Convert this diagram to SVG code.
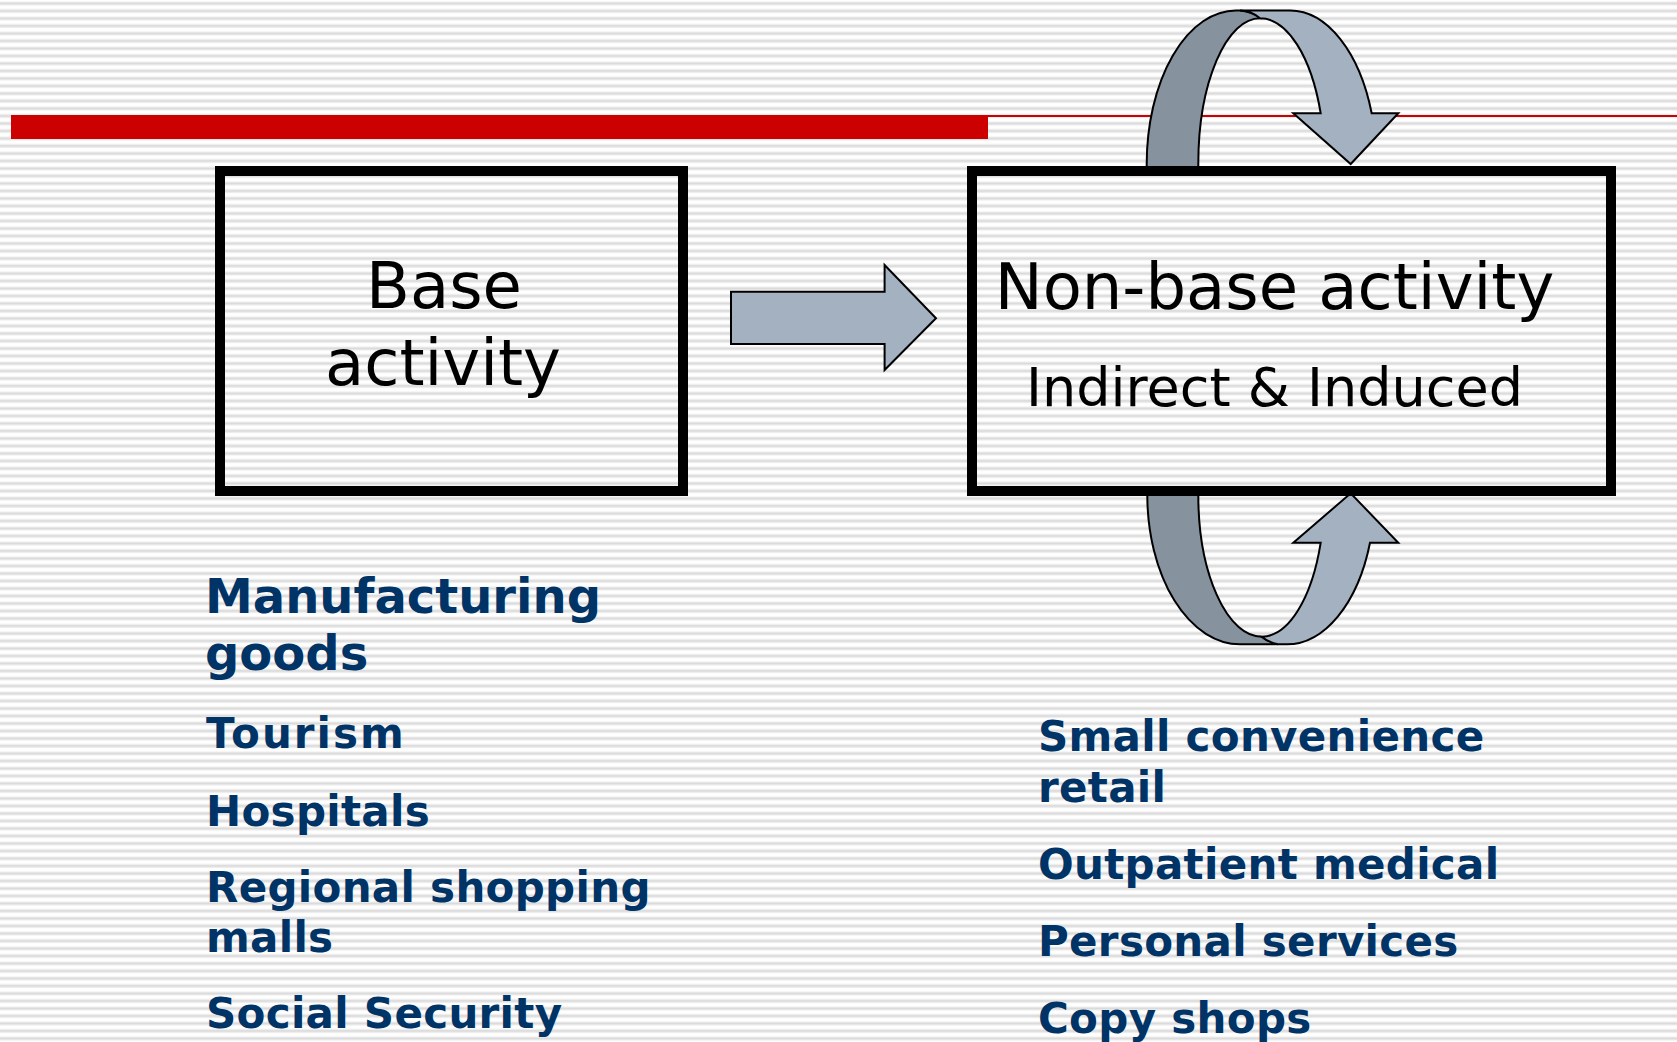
<svg xmlns="http://www.w3.org/2000/svg" width="1677" height="1042" viewBox="0 0 1677 1042">
<defs>
<pattern id="stripes" x="0" y="0" width="40" height="7.5" patternUnits="userSpaceOnUse">
<rect width="40" height="7.5" fill="#ffffff"/>
<rect y="1.5" width="40" height="1" fill="#ededed"/>
<rect y="2.5" width="40" height="2" fill="#d9d9d9"/>
<rect y="4.5" width="40" height="1" fill="#ededed"/>
</pattern>
<style>
.box{fill:none;stroke:#000;stroke-width:10}
.big{font-family:"DejaVu Sans","Verdana",sans-serif;font-size:64px;fill:#000;text-anchor:middle}
.sub{font-family:"DejaVu Sans","Verdana",sans-serif;font-size:54px;fill:#000;text-anchor:middle}
.item{font-family:"DejaVu Sans","Verdana",sans-serif;font-weight:bold;font-size:42px;fill:#003366;letter-spacing:0.3px}
.item48{font-family:"DejaVu Sans","Verdana",sans-serif;font-weight:bold;font-size:48px;fill:#003366}
.dark{fill:#86929e;stroke:#000;stroke-width:2;stroke-linejoin:miter}
.light{fill:#a3b1c0;stroke:#000;stroke-width:2;stroke-linejoin:miter}
</style>
</defs>
<rect width="1677" height="1042" fill="url(#stripes)"/>
<g id="header">
<rect x="11" y="115" width="977" height="24" fill="#cc0000"/>
<rect x="988" y="115" width="689" height="2" fill="#cc0000"/>
</g>
<g id="connectors">
<polygon class="light" points="731,291.7 884.6,291.7 884.6,265 936,318.3 884.6,370 884.6,344 731,344"/>
<path class="dark" d="M1146.7,170 L1146.7,164 A89.3,153.5 0 0 1 1236,10.5 L1240,10.5 Q1252,11 1260,18.3 A61.7,145.7 0 0 0 1198.3,164 L1198.3,170 Z"/>
<path class="light" d="M1240,10.5 L1290,10.5 A86.6,153.3 0 0 1 1371.7,113.3 L1398.3,113.3 L1350.7,164 L1293.3,113.3 L1320.7,113.3 A64.7,145.7 0 0 0 1260,18.3 Q1252,11 1240,10.5 Z"/>
<path class="dark" d="M1147.3,489 L1147.3,495 A92.7,149.3 0 0 0 1240,644.3 L1278,644.3 Q1268,642 1261.7,636.7 A63.4,141.7 0 0 1 1198.3,495 L1198.3,489 Z"/>
<path class="light" d="M1278,644.3 L1286.7,644.3 A87.9,149.3 0 0 0 1370,542.7 L1398.3,542.7 L1350.7,493.3 L1293.3,542.7 L1320.7,542.7 A62.7,141.7 0 0 1 1261.7,636.7 Q1268,642 1278,644.3 Z"/>
</g>
<g id="base">
<rect class="box" x="220" y="171" width="463" height="320"/>
<text class="big" x="444" y="308">Base</text>
<text class="big" x="443" y="385">activity</text>
</g>
<g id="nonbase">
<rect class="box" x="972" y="171" width="639" height="320"/>
<text class="big" x="1274.5" y="309">Non-base activity</text>
<text class="sub" x="1274.5" y="406">Indirect &amp; Induced</text>
</g>
<g id="base-list">
<text class="item48" x="205" y="612.7">Manufacturing</text>
<text class="item48" x="205" y="670">goods</text>
<text class="item" x="206" y="748.3" style="letter-spacing:2px">Tourism</text>
<text class="item" x="206" y="825.7">Hospitals</text>
<text class="item" x="206" y="901.7">Regional shopping</text>
<text class="item" x="206" y="952.3">malls</text>
<text class="item" x="206" y="1028.3">Social Security</text>
</g>
<g id="nonbase-list">
<text class="item" x="1038" y="751">Small convenience</text>
<text class="item" x="1038" y="801.7">retail</text>
<text class="item" x="1038" y="879">Outpatient medical</text>
<text class="item" x="1038" y="956">Personal services</text>
<text class="item" x="1038" y="1032.7">Copy shops</text>
</g>
</svg>
